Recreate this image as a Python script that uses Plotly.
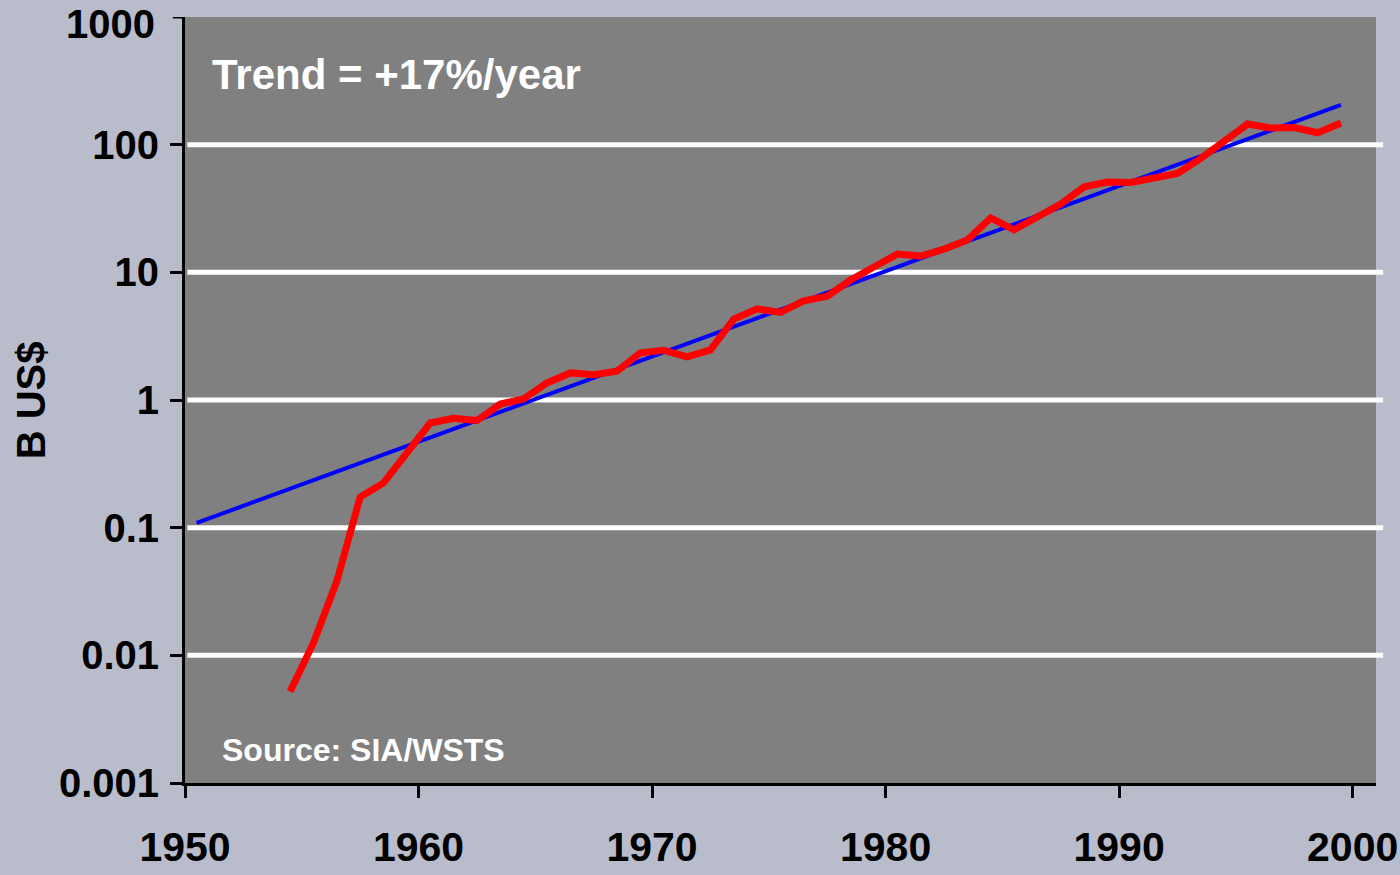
import plotly.graph_objects as go

# Worldwide semiconductor sales, billions of US dollars
years = list(range(1954, 2000))
sales_busd = [
    0.0052, 0.0125, 0.038, 0.174, 0.224, 0.39, 0.66, 0.72, 0.69, 0.93,
    1.02, 1.36, 1.63, 1.58, 1.68, 2.34, 2.45, 2.18, 2.47, 4.3,
    5.17, 4.85, 5.97, 6.5, 8.7, 11.0, 13.9, 13.4, 15.2, 17.9,
    26.7, 21.5, 27.2, 34.2, 46.7, 51.0, 50.5, 54.6, 59.6, 78.0,
    105.0, 145.0, 135.0, 136.0, 124.0, 148.0,
]

# Exponential trend (+17%/year), end points of the fitted line
trend_years = [1950, 1999]
trend_busd = [0.109, 205.0]

x_ticks = [1950, 1960, 1970, 1980, 1990, 2000]
y_ticks = [0.001, 0.01, 0.1, 1, 10, 100, 1000]
y_tick_text = ["0.001", "0.01", "0.1", "1", "10", "100", "1000"]
grid_levels = [0.01, 0.1, 1, 10, 100]

FONT = "Arial, Liberation Sans, sans-serif"
TICK_FONT_Y = dict(family=FONT, size=40, color="black", weight="bold")

fig = go.Figure()

# annual values are plotted at mid-year
fig.add_trace(go.Scatter(
    x=[y + 0.5 for y in trend_years], y=trend_busd, mode="lines",
    line=dict(color="#0000ff", width=4), hoverinfo="skip",
))
fig.add_trace(go.Scatter(
    x=[y + 0.5 for y in years], y=sales_busd, mode="lines",
    line=dict(color="#ff0000", width=7), hoverinfo="skip",
))

# white horizontal guide lines, running slightly past the plot edge
for lvl in grid_levels:
    fig.add_shape(type="line", xref="paper", yref="y",
                  x0=0.002, x1=1.006, y0=lvl, y1=lvl,
                  line=dict(color="white", width=5), layer="below")

# top tick label sits on the figure edge, so it is placed as an annotation
# nudged just below the top of the page
fig.add_annotation(text=y_tick_text[-1], xref="paper", yref="paper",
                   x=-0.0235, y=0.991, xanchor="right", yanchor="middle",
                   showarrow=False, font=TICK_FONT_Y)

fig.add_annotation(text="Trend = +17%/year", xref="paper", yref="paper",
                   x=0.021, y=0.925, xanchor="left", yanchor="middle",
                   showarrow=False,
                   font=dict(family=FONT, size=42, color="white", weight="bold"))
fig.add_annotation(text="Source: SIA/WSTS", xref="paper", yref="paper",
                   x=0.029, y=0.043, xanchor="left", yanchor="middle",
                   showarrow=False,
                   font=dict(family=FONT, size=32, color="white", weight="bold"))
fig.add_annotation(text="B US$", xref="paper", yref="paper",
                   x=-0.129, y=0.5, xanchor="center", yanchor="middle",
                   textangle=-90, showarrow=False,
                   font=dict(family=FONT, size=40, color="black", weight="bold"))

fig.update_layout(
    width=1400, height=875,
    margin=dict(l=185, r=24, t=17, b=92),
    paper_bgcolor="#b8bccb",
    plot_bgcolor="#808080",
    showlegend=False,
    xaxis=dict(
        range=[1950, 2001], tickvals=x_ticks, ticktext=[str(t) for t in x_ticks],
        showgrid=False, zeroline=False, automargin=False,
        showline=True, linecolor="black", linewidth=3,
        ticks="outside", ticklen=12, tickwidth=3, tickcolor="black",
        ticklabelstandoff=14,
        tickfont=dict(family=FONT, size=41, color="black", weight="bold"),
    ),
    yaxis=dict(
        type="log", range=[-3, 3], tickvals=y_ticks[:-1], ticktext=y_tick_text[:-1],
        showgrid=False, zeroline=False, automargin=False,
        showline=True, linecolor="black", linewidth=3,
        ticks="outside", ticklen=12, tickwidth=3, tickcolor="black",
        ticklabelstandoff=3,
        tickfont=TICK_FONT_Y,
    ),
)

# tick mark for the top level (its label is the annotation above)
fig.add_shape(type="line", xref="paper", yref="y",
              x0=-0.0101, x1=0, y0=1000, y1=1000,
              line=dict(color="black", width=3))

fig.write_html("out.html")
